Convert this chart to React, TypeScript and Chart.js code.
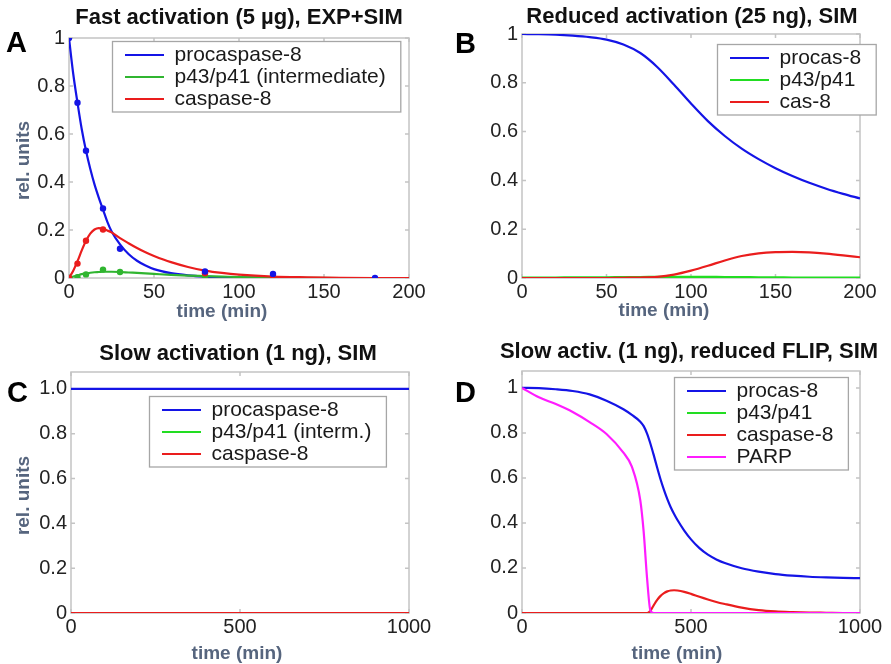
import { useEffect, useRef } from "react";
import { Chart, registerables } from "chart.js";

Chart.register(...registerables);

const FONT = "'Liberation Sans', Arial, Helvetica, sans-serif";

// ---------- Panel A: fast activation (5 µg), EXP + SIM ----------
const A_TIME = [0, 2.5, 5, 7.5, 10, 12.5, 15, 17.5, 20, 22.5, 25, 30, 35, 40, 45, 50, 60, 70, 80, 90, 100, 120, 140, 160, 180, 200];
const A_PROCASPASE = [1.0, 0.85, 0.73, 0.62, 0.53, 0.455, 0.39, 0.335, 0.285, 0.235, 0.195, 0.14, 0.1, 0.072, 0.052, 0.037, 0.02, 0.011, 0.006, 0.0035, 0.002, 0.001, 0, 0, 0, 0];
const A_P43 = [0, 0.006, 0.011, 0.016, 0.019, 0.022, 0.024, 0.025, 0.026, 0.026, 0.026, 0.025, 0.023, 0.021, 0.019, 0.017, 0.013, 0.01, 0.008, 0.006, 0.004, 0.002, 0.001, 0, 0, 0];
const A_CASPASE = [0, 0.03, 0.07, 0.115, 0.155, 0.185, 0.202, 0.208, 0.205, 0.198, 0.19, 0.166, 0.145, 0.125, 0.107, 0.092, 0.066, 0.046, 0.031, 0.021, 0.014, 0.006, 0.003, 0.001, 0, 0];

const A_EXP_PRO_TIME = [0, 5, 10, 20, 30, 80, 120, 180];
const A_EXP_PRO = [1.0, 0.73, 0.53, 0.29, 0.122, 0.027, 0.017, 0.0];
const A_EXP_P43_TIME = [0, 5, 10, 20, 30, 80, 120];
const A_EXP_P43 = [0, 0.003, 0.015, 0.035, 0.025, 0.006, 0.002];
const A_EXP_CAS_TIME = [0, 5, 10, 20, 80, 120];
const A_EXP_CAS = [0, 0.06, 0.155, 0.202, 0.02, 0.005];

// ---------- Panel B: reduced activation (25 ng), SIM ----------
const B_TIME = [0, 10, 20, 30, 40, 50, 60, 70, 80, 90, 100, 110, 120, 130, 140, 150, 160, 170, 180, 190, 200];
const B_PROCASPASE = [1.0, 0.999, 0.997, 0.993, 0.987, 0.977, 0.957, 0.922, 0.865, 0.792, 0.715, 0.643, 0.582, 0.53, 0.487, 0.45, 0.418, 0.39, 0.366, 0.345, 0.326];
const B_P43 = [0.002, 0.002, 0.002, 0.003, 0.003, 0.003, 0.004, 0.004, 0.005, 0.005, 0.005, 0.005, 0.004, 0.004, 0.003, 0.003, 0.002, 0.002, 0.002, 0.002, 0.002];
const B_CASPASE = [0, 0, 0, 0, 0, 0, 0.001, 0.002, 0.005, 0.014, 0.03, 0.05, 0.072, 0.09, 0.101, 0.106, 0.107, 0.105, 0.1, 0.093, 0.085];

// ---------- Panel C: slow activation (1 ng), SIM ----------
const C_TIME = [0, 250, 500, 750, 1000];
const C_PROCASPASE = [1, 1, 1, 1, 1];
const C_P43 = [0, 0, 0, 0, 0];
const C_CASPASE = [0, 0, 0, 0, 0];

// ---------- Panel D: slow activ. (1 ng), reduced FLIP, SIM ----------
const D_TIME = [0, 50, 100, 150, 200, 250, 300, 325, 350, 360, 370, 380, 390, 400, 410, 420, 430, 440, 450, 460, 480, 500, 525, 550, 575, 600, 650, 700, 750, 800, 850, 900, 950, 1000];
const D_PROCASPASE = [1.0, 0.999, 0.994, 0.986, 0.971, 0.943, 0.905, 0.88, 0.85, 0.83, 0.797, 0.752, 0.7, 0.645, 0.593, 0.547, 0.506, 0.47, 0.44, 0.413, 0.366, 0.327, 0.288, 0.259, 0.238, 0.222, 0.199, 0.184, 0.173, 0.166, 0.161, 0.158, 0.156, 0.155];
const D_P43 = [0, 0, 0, 0, 0, 0, 0, 0, 0, 0, 0, 0, 0, 0, 0, 0, 0, 0, 0, 0, 0, 0, 0, 0, 0, 0, 0, 0, 0, 0, 0, 0, 0, 0];
const D_CASPASE = [0, 0, 0, 0, 0, 0, 0, 0, 0, 0, 0, 0.01, 0.035, 0.058, 0.076, 0.088, 0.096, 0.1, 0.101, 0.1, 0.094, 0.085, 0.072, 0.06, 0.049, 0.04, 0.024, 0.013, 0.007, 0.004, 0.002, 0.001, 0, 0];
const D_PARP = [1.0, 0.958, 0.928, 0.893, 0.848, 0.795, 0.712, 0.65, 0.5, 0.36, 0.155, 0.01, 0, 0, 0, 0, 0, 0, 0, 0, 0, 0, 0, 0, 0, 0, 0, 0, 0, 0, 0, 0, 0, 0];

// ---------- ticks, labels, texts ----------
const X_TICKS_200 = [0, 50, 100, 150, 200];
const X_LABELS_200 = ["0", "50", "100", "150", "200"];
const X_TICKS_1000 = [0, 500, 1000];
const X_LABELS_1000 = ["0", "500", "1000"];
const Y_TICKS = [0, 0.2, 0.4, 0.6, 0.8, 1];
const Y_LABELS_INT = ["0", "0.2", "0.4", "0.6", "0.8", "1"];
const Y_LABELS_DEC = ["0", "0.2", "0.4", "0.6", "0.8", "1.0"];

const LEGEND_A = ["procaspase-8", "p43/p41 (intermediate)", "caspase-8"];
const LEGEND_B = ["procas-8", "p43/p41", "cas-8"];
const LEGEND_C = ["procaspase-8", "p43/p41 (interm.)", "caspase-8"];
const LEGEND_D = ["procas-8", "p43/p41", "caspase-8", "PARP"];

const TITLES = [
  "Fast activation (5 µg), EXP+SIM",
  "Reduced activation (25 ng), SIM",
  "Slow activation (1 ng), SIM",
  "Slow activ. (1 ng), reduced FLIP, SIM",
];
const LETTERS = ["A", "B", "C", "D"];
const X_TITLE = "time (min)";
const Y_TITLE = "rel. units";

const BLUE = "#1414e6";
const GREEN_A = "#30b530";
const GREEN = "#22dd22";
const RED = "#ea1d1d";
const MAGENTA = "#ff1cff";

const LEGEND_FONT = 21;
const LEGEND_LINE_W = 39;
const LEGEND_PAD = 1;

const pts = (xs: number[], ys: number[]) => xs.map((x, i) => ({ x, y: ys[i] }));

const line = (label: string, xs: number[], ys: number[], color: string, order: number) => ({
  label,
  data: pts(xs, ys),
  showLine: true,
  borderColor: color,
  backgroundColor: color,
  borderWidth: 2.2,
  pointRadius: 0,
  pointHoverRadius: 0,
  cubicInterpolationMode: "monotone",
  fill: false,
  order,
});

const dots = (xs: number[], ys: number[], color: string, order: number) => ({
  label: "",
  data: pts(xs, ys),
  showLine: false,
  borderColor: color,
  backgroundColor: color,
  borderWidth: 0,
  pointRadius: 3.2,
  pointHoverRadius: 3.2,
  order,
});

type Panel = {
  left: number; top: number; width: number; height: number;
  area: { l: number; t: number; r: number; b: number };
  xMax: number; xTicks: number[]; xLabels: string[];
  yMax: number; yLabels: string[];
  datasets: any[]; legendLabels: string[];
  legend: { lineX: number; rowY: number };
};

const PANELS: Panel[] = [
  {
    left: 0, top: 0, width: 445, height: 330,
    area: { l: 69, t: 38, r: 409, b: 278 },
    xMax: 200, xTicks: X_TICKS_200, xLabels: X_LABELS_200,
    yMax: 1, yLabels: Y_LABELS_INT,
    datasets: [
      line(LEGEND_A[0], A_TIME, A_PROCASPASE, BLUE, 5),
      line(LEGEND_A[1], A_TIME, A_P43, GREEN_A, 4),
      line(LEGEND_A[2], A_TIME, A_CASPASE, RED, 3),
      dots(A_EXP_PRO_TIME, A_EXP_PRO, BLUE, 0),
      dots(A_EXP_P43_TIME, A_EXP_P43, GREEN_A, 2),
      dots(A_EXP_CAS_TIME, A_EXP_CAS, RED, 1),
    ],
    legendLabels: LEGEND_A,
    legend: { lineX: 125, rowY: 55 },
  },
  {
    left: 445, top: 0, width: 446, height: 330,
    area: { l: 522, t: 34, r: 860, b: 278 },
    xMax: 200, xTicks: X_TICKS_200, xLabels: X_LABELS_200,
    yMax: 1, yLabels: Y_LABELS_INT,
    datasets: [
      line(LEGEND_B[0], B_TIME, B_PROCASPASE, BLUE, 3),
      line(LEGEND_B[1], B_TIME, B_P43, GREEN, 2),
      line(LEGEND_B[2], B_TIME, B_CASPASE, RED, 1),
    ],
    legendLabels: LEGEND_B,
    legend: { lineX: 730, rowY: 58 },
  },
  {
    left: 0, top: 330, width: 445, height: 334,
    area: { l: 71, t: 372, r: 409, b: 613 },
    xMax: 1000, xTicks: X_TICKS_1000, xLabels: X_LABELS_1000,
    yMax: 1.075, yLabels: Y_LABELS_DEC,
    datasets: [
      line(LEGEND_C[0], C_TIME, C_PROCASPASE, BLUE, 3),
      line(LEGEND_C[1], C_TIME, C_P43, GREEN, 2),
      line(LEGEND_C[2], C_TIME, C_CASPASE, RED, 1),
    ],
    legendLabels: LEGEND_C,
    legend: { lineX: 162, rowY: 410 },
  },
  {
    left: 445, top: 330, width: 446, height: 334,
    area: { l: 522, t: 371, r: 860, b: 613 },
    xMax: 1000, xTicks: X_TICKS_1000, xLabels: X_LABELS_1000,
    yMax: 1.075, yLabels: Y_LABELS_INT,
    datasets: [
      line(LEGEND_D[0], D_TIME, D_PROCASPASE, BLUE, 4),
      line(LEGEND_D[1], D_TIME, D_P43, GREEN, 3),
      line(LEGEND_D[2], D_TIME, D_CASPASE, RED, 2),
      line(LEGEND_D[3], D_TIME, D_PARP, MAGENTA, 1),
    ],
    legendLabels: LEGEND_D,
    legend: { lineX: 687, rowY: 391 },
  },
];

const framePlugin = {
  id: "matlabFrame",
  afterLayout(chart: any, _args: any, opts: any) {
    const lg = chart.legend;
    if (!lg || opts.lineX == null) return;
    const w = lg.width;
    const h = lg.height;
    lg.left = opts.lineX - LEGEND_PAD;
    lg.top = opts.rowY - LEGEND_PAD - LEGEND_FONT / 2;
    lg.right = lg.left + w;
    lg.bottom = lg.top + h;
  },
  beforeDraw(chart: any, _args: any, opts: any) {
    const { ctx, chartArea: a, scales } = chart;
    ctx.save();
    ctx.strokeStyle = "#c4c4c4";
    ctx.lineWidth = 1.5;
    ctx.strokeRect(a.left, a.top, a.right - a.left, a.bottom - a.top);
    ctx.beginPath();
    const tl = 4;
    for (const t of scales.x.ticks) {
      const px = scales.x.getPixelForValue(t.value);
      ctx.moveTo(px, a.bottom);
      ctx.lineTo(px, a.bottom - tl);
      ctx.moveTo(px, a.top);
      ctx.lineTo(px, a.top + tl);
    }
    for (const t of scales.y.ticks) {
      const py = scales.y.getPixelForValue(t.value);
      ctx.moveTo(a.left, py);
      ctx.lineTo(a.left + tl, py);
      ctx.moveTo(a.right, py);
      ctx.lineTo(a.right - tl, py);
    }
    ctx.stroke();
    const labels: string[] = opts.labels || [];
    if (labels.length) {
      ctx.font = `${LEGEND_FONT}px ${FONT}`;
      let maxW = 0;
      for (const s of labels) maxW = Math.max(maxW, ctx.measureText(s).width);
      const left = opts.lineX - 12.5;
      const top = opts.rowY - 13.5;
      const right = opts.lineX + LEGEND_LINE_W + LEGEND_FONT / 2 + maxW + 15;
      const bottom = opts.rowY + (labels.length - 1) * (LEGEND_FONT + LEGEND_PAD) + 13;
      ctx.fillStyle = "#ffffff";
      ctx.fillRect(left, top, right - left, bottom - top);
      ctx.strokeStyle = "#a6a6a6";
      ctx.lineWidth = 1.3;
      ctx.strokeRect(left, top, right - left, bottom - top);
    }
    ctx.restore();
  },
};

function PanelChart({ p }: { p: Panel }) {
  const ref = useRef<HTMLCanvasElement>(null);
  useEffect(() => {
    const padTop = p.area.t - p.top;
    const padRight = p.left + p.width - p.area.r;
    const yW = p.area.l - p.left;
    const xH = p.top + p.height - p.area.b;
    const nLegend = p.legendLabels.length;
    const chart = new Chart(ref.current as HTMLCanvasElement, {
      type: "scatter",
      data: { datasets: p.datasets },
      plugins: [framePlugin],
      options: {
        responsive: false,
        maintainAspectRatio: false,
        animation: false,
        devicePixelRatio: 1,
        events: [],
        layout: { padding: { left: 0, top: padTop, right: padRight, bottom: 0 } },
        scales: {
          x: {
            type: "linear",
            min: 0,
            max: p.xMax,
            afterBuildTicks: (s: any) => {
              s.ticks = p.xTicks.map((v) => ({ value: v }));
            },
            afterFit: (s: any) => {
              s.height = xH;
            },
            grid: { display: false, drawTicks: false },
            border: { display: false },
            ticks: {
              autoSkip: false,
              maxRotation: 0,
              padding: 2,
              color: "#222222",
              font: { family: FONT, size: 20 },
              callback: (_v: any, i: number) => p.xLabels[i],
            },
          },
          y: {
            type: "linear",
            min: 0,
            max: p.yMax,
            afterBuildTicks: (s: any) => {
              s.ticks = Y_TICKS.map((v) => ({ value: v }));
            },
            afterFit: (s: any) => {
              s.width = yW;
            },
            grid: { display: false, drawTicks: false },
            border: { display: false },
            ticks: {
              autoSkip: false,
              padding: 4,
              color: "#222222",
              font: { family: FONT, size: 20 },
              callback: (_v: any, i: number) => p.yLabels[i],
            },
          },
        },
        plugins: {
          title: { display: false },
          tooltip: { enabled: false },
          legend: {
            display: true,
            position: "chartArea",
            align: "start",
            labels: {
              usePointStyle: true,
              pointStyle: "line",
              pointStyleWidth: LEGEND_LINE_W,
              padding: LEGEND_PAD,
              color: "#1a1a1a",
              font: { family: FONT, size: LEGEND_FONT },
              filter: (item: any) => item.datasetIndex < nLegend,
              sort: (a: any, b: any) => a.datasetIndex - b.datasetIndex,
            },
          },
          matlabFrame: {
            lineX: p.legend.lineX - p.left,
            rowY: p.legend.rowY - p.top,
            labels: p.legendLabels,
          },
        } as any,
      } as any,
    } as any);
    return () => chart.destroy();
  }, [p]);
  return (
    <canvas
      ref={ref}
      width={p.width}
      height={p.height}
      style={{ position: "absolute", left: p.left, top: p.top, width: p.width, height: p.height }}
    />
  );
}

const AXIS_COLOR = "#56657e";

const TITLE_POS = [
  { cx: 239, top: 6 },
  { cx: 692, top: 5 },
  { cx: 238, top: 342 },
  { cx: 689, top: 340 },
];
const LETTER_POS = [
  { x: 6, y: 28 },
  { x: 455, y: 29 },
  { x: 7, y: 378 },
  { x: 455, y: 378 },
];
const XLABEL_POS = [
  { cx: 222, top: 301 },
  { cx: 664, top: 300 },
  { cx: 237, top: 643 },
  { cx: 677, top: 643 },
];
const YLABEL_POS = [
  { cx: 22, cy: 160 },
  { cx: 22, cy: 495 },
];

export default function App() {
  return (
    <div
      style={{
        position: "absolute",
        left: 0,
        top: 0,
        width: 891,
        height: 664,
        background: "#ffffff",
        overflow: "hidden",
        fontFamily: FONT,
      }}
    >
      {PANELS.map((p, i) => (
        <PanelChart key={i} p={p} />
      ))}
      {TITLES.map((t, i) => (
        <div
          key={"t" + i}
          style={{
            position: "absolute",
            left: TITLE_POS[i].cx - 250,
            top: TITLE_POS[i].top,
            width: 500,
            textAlign: "center",
            fontSize: 22,
            lineHeight: "22px",
            fontWeight: "bold",
            color: "#111111",
            whiteSpace: "nowrap",
          }}
        >
          {t}
        </div>
      ))}
      {LETTERS.map((l, i) => (
        <div
          key={"l" + i}
          style={{
            position: "absolute",
            left: LETTER_POS[i].x,
            top: LETTER_POS[i].y,
            fontSize: 29,
            lineHeight: "29px",
            fontWeight: "bold",
            color: "#000000",
          }}
        >
          {l}
        </div>
      ))}
      {XLABEL_POS.map((pos, i) => (
        <div
          key={"x" + i}
          style={{
            position: "absolute",
            left: pos.cx - 80,
            top: pos.top,
            width: 160,
            textAlign: "center",
            fontSize: 19,
            lineHeight: "19px",
            fontWeight: "bold",
            color: AXIS_COLOR,
            whiteSpace: "nowrap",
          }}
        >
          {X_TITLE}
        </div>
      ))}
      {YLABEL_POS.map((pos, i) => (
        <div
          key={"y" + i}
          style={{
            position: "absolute",
            left: pos.cx - 60,
            top: pos.cy - 9.5,
            width: 120,
            height: 19,
            textAlign: "center",
            fontSize: 19,
            lineHeight: "19px",
            fontWeight: "bold",
            color: AXIS_COLOR,
            whiteSpace: "nowrap",
            transform: "rotate(-90deg)",
          }}
        >
          {Y_TITLE}
        </div>
      ))}
    </div>
  );
}
